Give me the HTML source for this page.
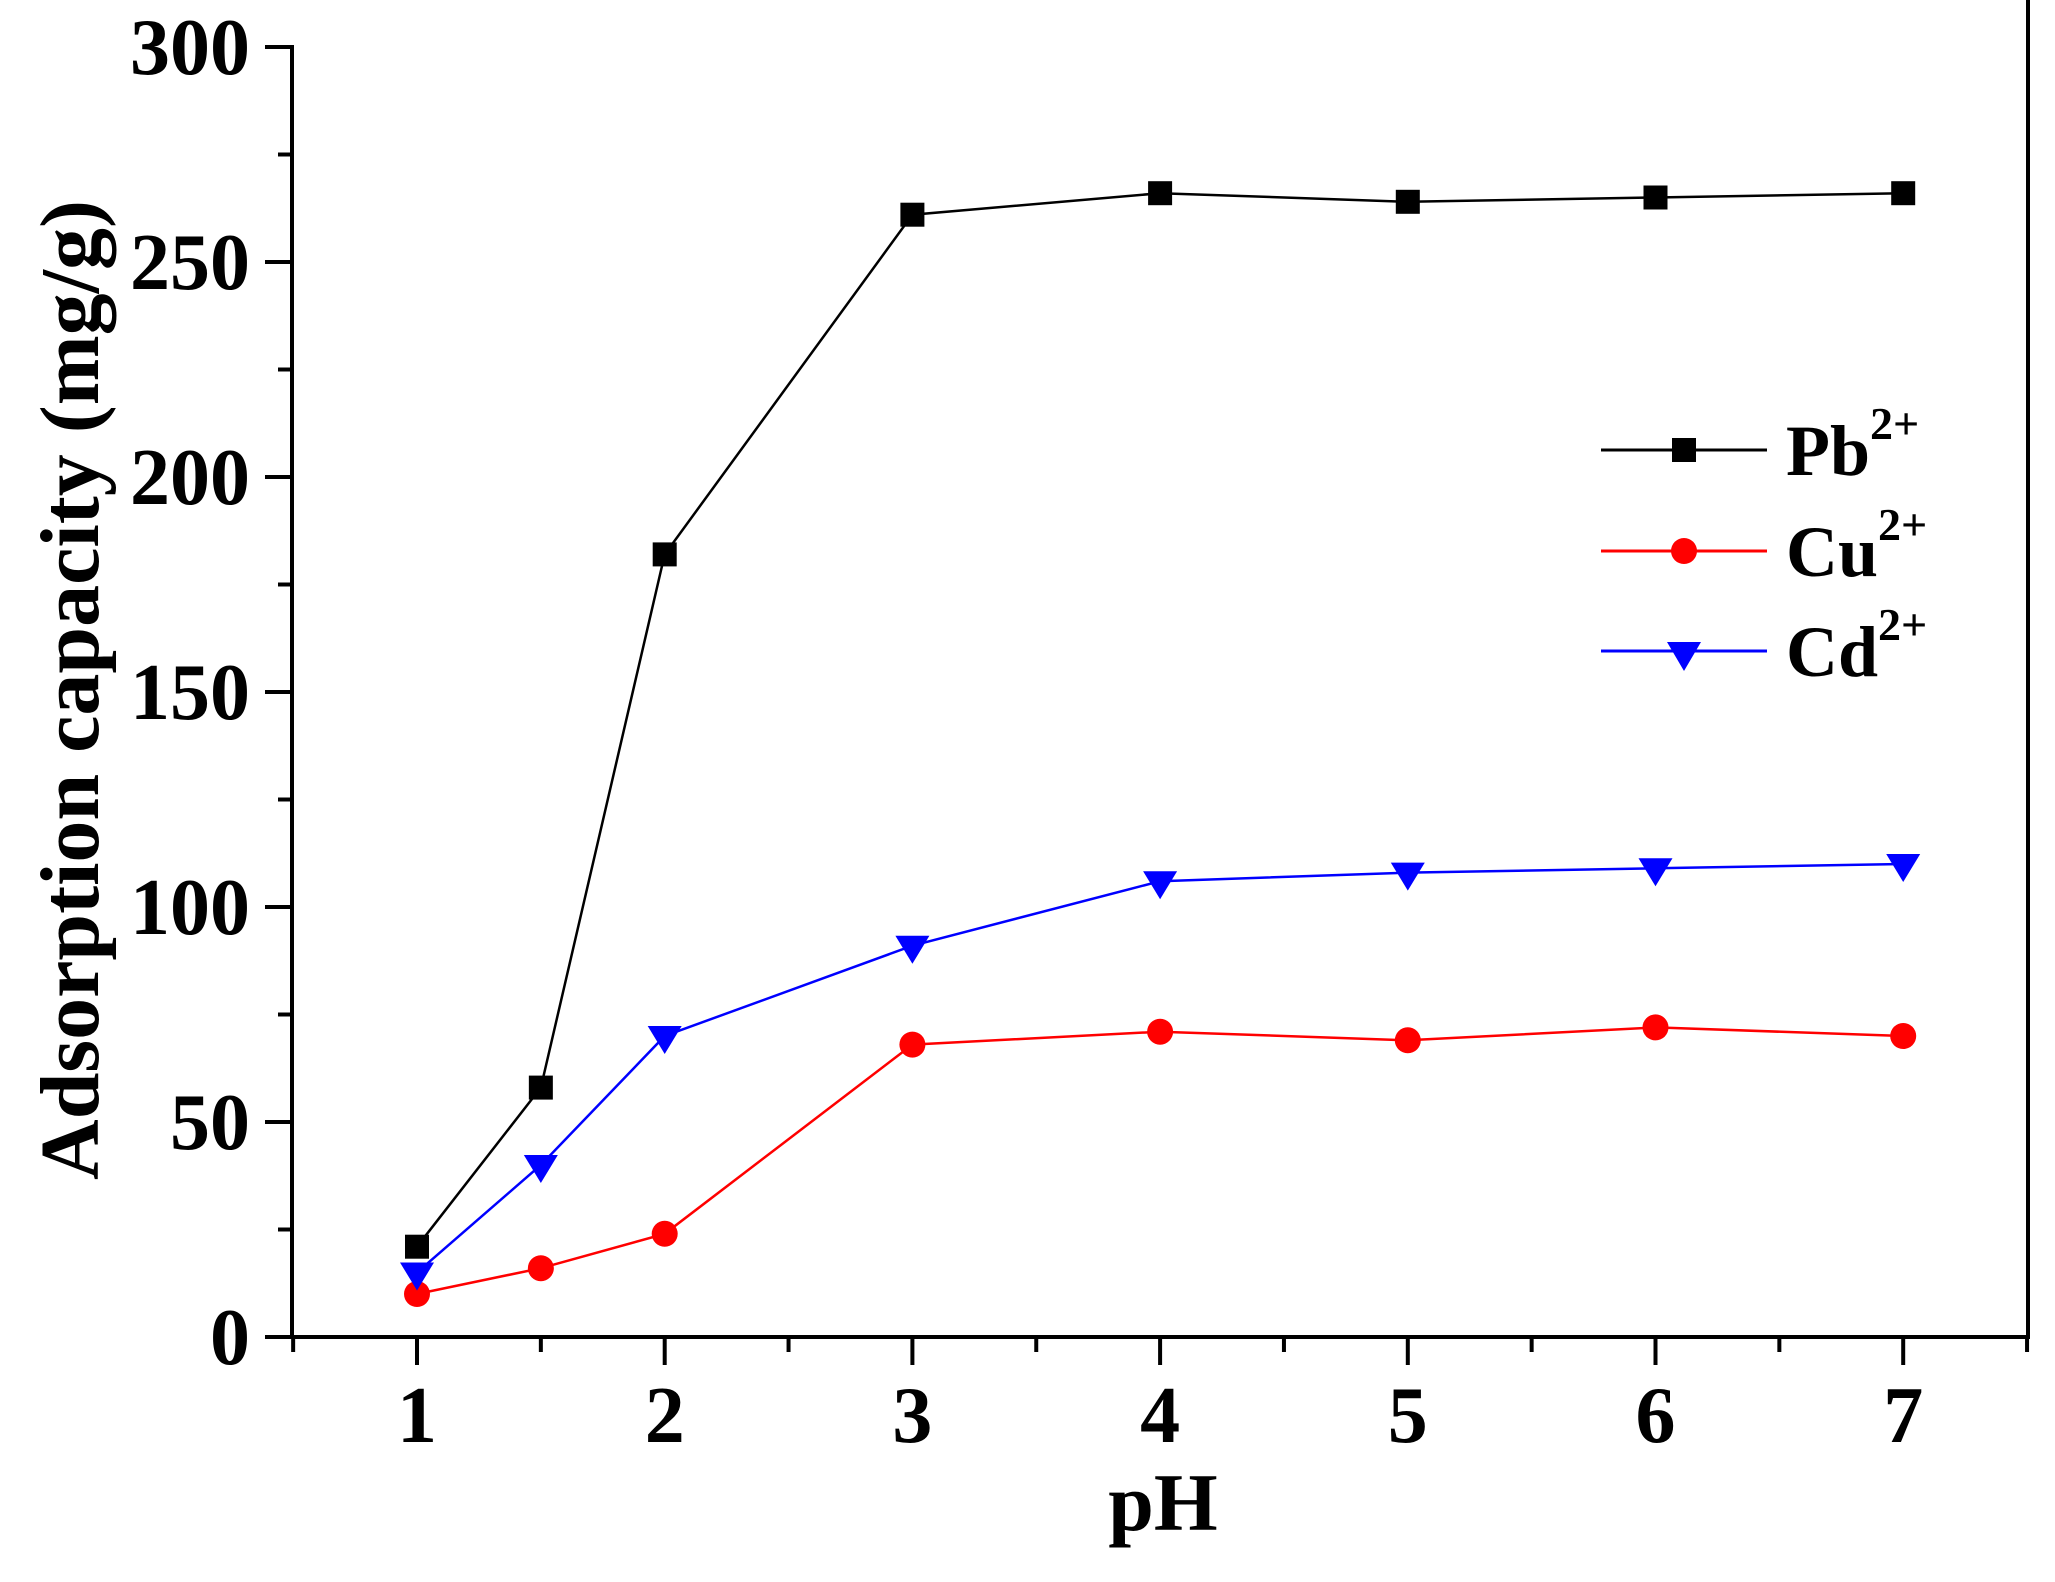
<!DOCTYPE html>
<html><head><meta charset="utf-8"><style>body{margin:0;background:#fff}svg{display:block}</style></head>
<body>
<svg width="2055" height="1582" xmlns="http://www.w3.org/2000/svg" font-family="Liberation Serif, serif" font-weight="bold">
<g stroke="#000" stroke-width="4" fill="none">
<line x1="292" y1="45" x2="292" y2="1339"/>
<line x1="290" y1="1337" x2="2030" y2="1337"/>
<line x1="2028" y1="0" x2="2028" y2="1339"/>
</g>
<g id="ticks" stroke="#000" stroke-width="4"></g>
<g id="labels" font-size="80" fill="#000"></g>
<text x="1163" y="1530" font-size="82" text-anchor="middle">pH</text>
<text transform="translate(98,690) rotate(-90)" font-size="84" text-anchor="middle">Adsorption capacity (mg/g)</text>
<g id="plot"></g>
<g font-size="72">
<line x1="1601" y1="450" x2="1767" y2="450" stroke="#000" stroke-width="3"/>
<rect x="1672" y="438" width="24" height="24" fill="#000"/>
<text x="1786" y="475">Pb<tspan font-size="46" dy="-36">2+</tspan></text>
<line x1="1601" y1="551" x2="1767" y2="551" stroke="#f00" stroke-width="3"/>
<circle cx="1684" cy="551" r="13" fill="#f00"/>
<text x="1786" y="576">Cu<tspan font-size="46" dy="-36">2+</tspan></text>
<line x1="1601" y1="651" x2="1767" y2="651" stroke="#00f" stroke-width="3"/>
<polygon points="1667,642 1701,642 1684,671" fill="#00f"/>
<text x="1786" y="676">Cd<tspan font-size="46" dy="-36">2+</tspan></text>
</g>
</svg>
<script>
const ns="http://www.w3.org/2000/svg";
const X=p=>417+(p-1)*247.7, Y=v=>1337-v*4.3;
const t=document.getElementById('ticks'),l=document.getElementById('labels'),pl=document.getElementById('plot');
function el(tag,a,p){const e=document.createElementNS(ns,tag);for(const k in a)e.setAttribute(k,a[k]);p.appendChild(e);return e;}
for(let v=0;v<=300;v+=25){const y=Y(v);const maj=v%50==0;el('line',{x1:maj?265:278,x2:292,y1:y,y2:y},t);
 if(maj){const tx=el('text',{x:250,y:y+27,'text-anchor':'end'},l);tx.textContent=v;}}
for(let p=0.5;p<=7.5;p+=0.5){const x=X(p);const maj=Number.isInteger(p);el('line',{x1:x,x2:x,y1:1337,y2:maj?1365:1352},t);
 if(maj){const tx=el('text',{x:x,y:1442,'text-anchor':'middle'},l);tx.textContent=p;}}
const xs=[1,1.5,2,3,4,5,6,7];
const S=[["#000",[21,58,182,261,266,264,265,266],'s'],["#f00",[10,16,24,68,71,69,72,70],'c'],["#00f",[15,40,70,91,106,108,109,110],'t']];
for(const [c,d,m] of S){el('polyline',{points:d.map((v,i)=>X(xs[i])+','+Y(v)).join(' '),fill:'none',stroke:c,'stroke-width':2.5},pl);}
for(const [c,d,m] of S){d.forEach((v,i)=>{const x=X(xs[i]),y=Y(v);
 if(m=='s')el('rect',{x:x-12,y:y-12,width:24,height:24,fill:c},pl);
 else if(m=='c')el('circle',{cx:x,cy:y,r:13,fill:c},pl);
 else el('polygon',{points:`${x-17},${y-10} ${x+17},${y-10} ${x},${y+18}`,fill:c},pl);});}
</script>
</body></html>
